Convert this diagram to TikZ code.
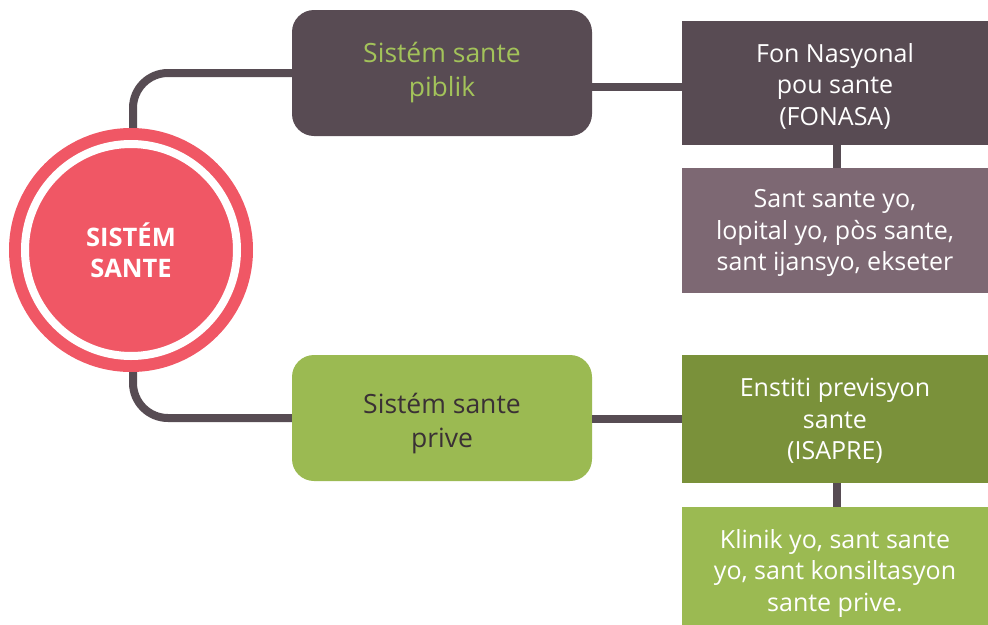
\documentclass[tikz,border=0pt]{standalone}
\usepackage{fontspec}
\setmainfont{Open Sans}
\definecolor{sysred}{HTML}{F05765}
\definecolor{darkbox}{HTML}{584B53}
\definecolor{mauvebox}{HTML}{7D6873}
\definecolor{lightgreen}{HTML}{9BBA52}
\definecolor{darkgreen}{HTML}{7A913A}
\definecolor{pubtext}{HTML}{A3C35A}
\definecolor{privtext}{HTML}{3A3035}
\definecolor{connc}{HTML}{574C53}
\tikzset{
  conn/.style={draw=connc, line width=8pt},
  midbox/.style={rectangle, rounded corners=22pt, minimum width=300pt, minimum height=126pt, align=center, inner sep=0pt, font=\fontsize{26.5}{34}\selectfont},
  rbox/.style={rectangle, minimum width=306pt, align=center, inner sep=0pt, text=white, font=\fontsize{25}{31.5}\selectfont},
}
\begin{document}
\begin{tikzpicture}[x=1pt,y=-1pt]
\useasboundingbox (0,0) rectangle (988,624);
% right boxes
\node[rbox, fill=darkbox, minimum height=124pt] (fon) at (835,83) {};
\node[rbox] (font) at (835,86) {Fon Nasyonal\\pou sante\\(FONASA)};
\node[rbox, fill=mauvebox, minimum height=125pt] (sub1) at (835,230.5) {};
\node[rbox] (sub1t) at (835,233) {Sant sante yo,\\lopital yo, pòs sante,\\sant ijansyo, ekseter};
\node[rbox, fill=darkgreen, minimum height=128pt] (isa) at (835,419) {};
\node[rbox] (isat) at (835,421) {Enstiti previsyon\\sante\\(ISAPRE)};
\node[rbox, fill=lightgreen, minimum height=125pt] (sub2) at (835,569.5) {};
\node[rbox] (sub2t) at (835,573) {Klinik yo, sant sante\\yo, sant konsiltasyon\\sante prive.};
% middle boxes
\node[midbox, fill=darkbox] (pub) at (442,73) {};
\node[midbox, text=pubtext] (pubt) at (442,73) {Sistém sante\\piblik};
\node[midbox, fill=lightgreen] (priv) at (442,418) {};
\node[midbox, text=privtext] (privt) at (442,423.5) {Sistém sante\\prive};
% circle
\node[circle, fill=sysred, minimum size=244pt, inner sep=0pt] (sys) at (131,250) {};
\draw[white, line width=8pt] (sys.center) circle (106);
\node[text=white, align=center, font=\bfseries\fontsize{25.5}{31}\selectfont] (syst) at (sys.center) {SISTÉM\\SANTE};
% connectors
\draw[conn, rounded corners=35pt] ([xshift=2pt]sys.north) |- (pub.west);
\draw[conn, rounded corners=35pt] ([xshift=2pt]sys.south) |- (priv.west);
\draw[conn] ([yshift=-4pt]fon.west -| pub.east) -- ([yshift=-4pt]fon.west);
\draw[conn] (priv.east |- isa.west) -- (isa.west);
\draw[conn] ([xshift=2pt]fon.south) -- ([xshift=2pt]sub1.north);
\draw[conn] ([xshift=2pt]isa.south) -- ([xshift=2pt]sub2.north);
\end{tikzpicture}
\end{document}
